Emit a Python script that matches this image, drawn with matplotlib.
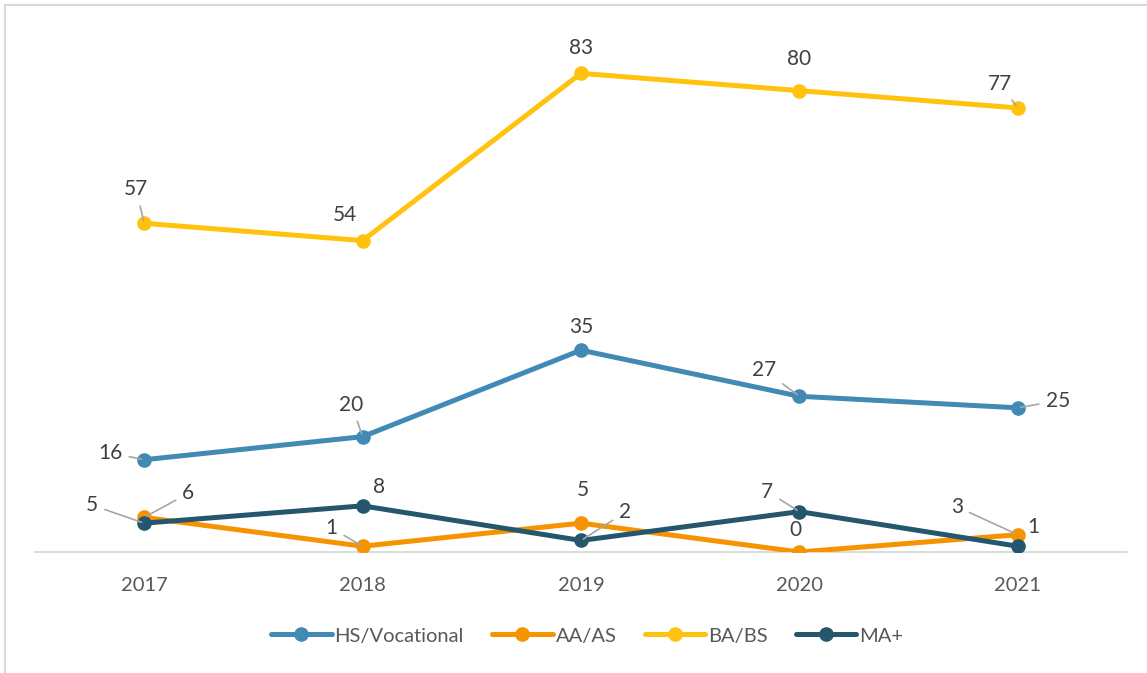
import matplotlib.pyplot as plt
from matplotlib.lines import Line2D

# data
years = ["2017", "2018", "2019", "2020", "2021"]
hs_voc = [16, 20, 35, 27, 25]
aa_as = [6, 1, 5, 0, 3]
ba_bs = [57, 54, 83, 80, 77]
ma_plus = [5, 8, 2, 7, 1]

series = [
    ("HS/Vocational", hs_voc, "#418AB3"),
    ("AA/AS", aa_as, "#F59300"),
    ("BA/BS", ba_bs, "#FFC20E"),
    ("MA+", ma_plus, "#24566E"),
]

# label offsets in pixels (dx, dy) and whether a leader line is drawn
label_offsets = {
    "HS/Vocational": [(-34, 7, True), (-11, 32, True), (0, 23, False), (-35, 26, True), (40, 7, True)],
    "AA/AS": [(44, 24, True), (-31, 18, True), (2, 33, False), (-4, 22, False), (-61, 28, True)],
    "BA/BS": [(-8, 34, True), (-18, 26, False), (0, 25, False), (0, 32, False), (-18, 24, True)],
    "MA+": [(-52, 18, True), (16, 19, False), (44, 28, True), (-32, 20, True), (15, 19, False)],
}

plt.rcParams['font.family'] = ['Lato', 'DejaVu Sans']

fig = plt.figure(figsize=(11.47, 6.73), dpi=100)
ax = fig.add_axes([0.0305, 0.1798, 0.9521, 0.7712])

x = list(range(len(years)))
for name, vals, color in series:
    ax.plot(x, vals, color=color, lw=3.6, marker='o', markersize=9.5,
            label=name, solid_capstyle='round', zorder=3)

for name, vals, color in series:
    for i, v in enumerate(vals):
        dx, dy, leader = label_offsets[name][i]
        arrow = None
        if leader:
            arrow = dict(arrowstyle='-', color='#A6A6A6', lw=1.2,
                         shrinkA=3, shrinkB=2)
        ax.annotate(str(v), xy=(i, v), xytext=(dx, dy),
                    textcoords='offset pixels', ha='center', va='center',
                    fontsize=15, color='#404040', arrowprops=arrow, zorder=4)

ax.set_xlim(-0.5, 4.5)
ax.set_ylim(0, 90)
ax.set_xticks(x)
ax.set_xticklabels(years, fontsize=14.5, color='#595959')
ax.tick_params(axis='x', length=0, pad=18)
ax.set_yticks([])
for s in ['top', 'right', 'left']:
    ax.spines[s].set_visible(False)
ax.spines['bottom'].set_color('#D9D9D9')
ax.spines['bottom'].set_linewidth(1.3)

leg = fig.legend(loc='center', bbox_to_anchor=(0.512, 0.055), ncol=4,
                 frameon=False, fontsize=14.5, handlelength=3.0,
                 handletextpad=0.15, columnspacing=1.4)
for t in leg.get_texts():
    t.set_color('#595959')

# chart frame (top and left edges visible)
fig.add_artist(Line2D([0.0045, 1.0], [0.9933, 0.9933], color='#D9D9D9', lw=1.5))
fig.add_artist(Line2D([0.0045, 0.0045], [0.0, 0.9933], color='#D9D9D9', lw=1.5))

fig.savefig("out.png", dpi=100)
